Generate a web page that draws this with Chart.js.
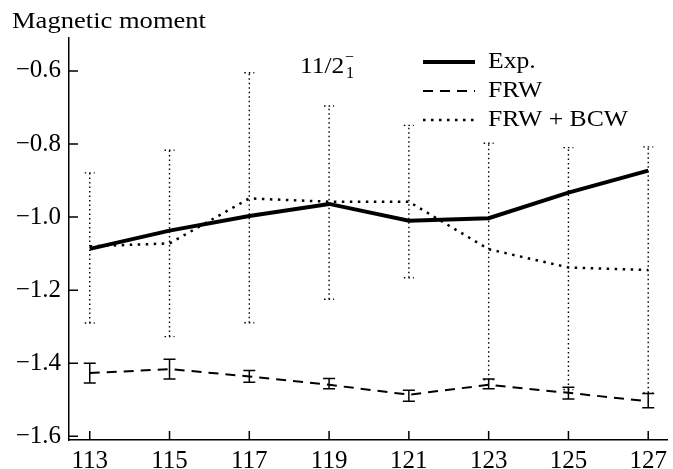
<!DOCTYPE html>
<html lang="en">
<head>
    <meta charset="UTF-8">
    <title>Magnetic moment 11/2-</title>
    <script src="https://cdn.jsdelivr.net/npm/chart.js@4.4.1/dist/chart.umd.min.js"></script>
    <style>
        html, body { margin: 0; padding: 0; background: #fff; }
        #wrap { width: 673px; height: 469px; }
    </style>
</head>
<body>
<div id="wrap"><canvas id="chart" width="673" height="469"></canvas></div>
<script>
    // data
    const nuclei = [113, 115, 117, 119, 121, 123, 125, 127];
    const xTicks = [113, 115, 117, 119, 121, 123, 125, 127];
    const yTicks = [-1.6, -1.4, -1.2, -1.0, -0.8, -0.6];

    const expMoment = [-1.087, -1.037, -0.997, -0.964, -1.010, -1.003, -0.933, -0.873];

    const frwMoment = [-1.427, -1.416, -1.436, -1.459, -1.486, -1.459, -1.481, -1.504];
    const frwLow    = [-1.454, -1.443, -1.452, -1.470, -1.504, -1.470, -1.498, -1.522];
    const frwHigh   = [-1.400, -1.389, -1.420, -1.442, -1.474, -1.443, -1.466, -1.483];

    const bcwMoment = [-1.080, -1.072, -0.949, -0.958, -0.958, -1.088, -1.138, -1.145];
    const bcwLow    = [-1.290, -1.327, -1.289, -1.225, -1.166, -1.445, -1.472, -1.481];
    const bcwHigh   = [-0.879, -0.817, -0.605, -0.696, -0.749, -0.798, -0.810, -0.808];

    const FONT = '"Liberation Serif", "Times New Roman", serif';

    function pts(vals) {
        return nuclei.map((n, i) => ({ x: n, y: vals[i] }));
    }

    // text stretched sideways a little, the figure's type is wider than Times
    function wideText(ctx, str, x, y, sx) {
        ctx.save();
        ctx.translate(x, y);
        ctx.scale(sx, 1);
        ctx.fillText(str, 0, 0);
        ctx.restore();
    }

    // error bars, drawn through the chart scales
    const errorBars = {
        id: 'errorBars',
        beforeDatasetsDraw(chart) {
            const { ctx, scales: { x, y } } = chart;
            const bars = [
                { low: bcwLow, high: bcwHigh, width: 1.4, dash: [1.5, 3], cap: 5 },
                { low: frwLow, high: frwHigh, width: 1.5, dash: [], cap: 6 }
            ];
            ctx.save();
            ctx.strokeStyle = '#000';
            bars.forEach(b => {
                ctx.lineWidth = b.width;
                ctx.setLineDash(b.dash);
                nuclei.forEach((n, i) => {
                    const px = x.getPixelForValue(n);
                    const y1 = y.getPixelForValue(b.low[i]);
                    const y2 = y.getPixelForValue(b.high[i]);
                    ctx.beginPath();
                    ctx.moveTo(px, y1); ctx.lineTo(px, y2);
                    ctx.moveTo(px - b.cap, y1); ctx.lineTo(px + b.cap, y1);
                    ctx.moveTo(px - b.cap, y2); ctx.lineTo(px + b.cap, y2);
                    ctx.stroke();
                });
            });
            ctx.restore();
        }
    };

    // inward ticks, legend, labels
    const decor = {
        id: 'decor',
        afterDraw(chart) {
            const { ctx, chartArea: a, scales: { x, y } } = chart;
            ctx.save();
            ctx.strokeStyle = '#000';
            ctx.lineWidth = 1.5;
            ctx.beginPath();
            xTicks.forEach(v => {
                const px = x.getPixelForValue(v);
                ctx.moveTo(px, a.bottom); ctx.lineTo(px, a.bottom - 9);
            });
            yTicks.forEach(v => {
                const py = y.getPixelForValue(v);
                ctx.moveTo(a.left, py); ctx.lineTo(a.left + 9, py);
            });
            ctx.stroke();

            ctx.fillStyle = '#000';
            ctx.textBaseline = 'alphabetic';
            ctx.textAlign = 'left';
            ctx.font = '24px ' + FONT;
            const title = 'Magnetic moment';
            wideText(ctx, title, 12, 28, 194 / ctx.measureText(title).width);

            // level label 11/2_1^-
            ctx.font = '24px ' + FONT;
            wideText(ctx, '11/2', 300, 73, 1.06);
            ctx.font = '16px ' + FONT;
            ctx.fillText('1', 346, 78);
            ctx.fillText('\u2212', 345, 62);

            // legend
            const rows = [62, 91, 120];
            chart.data.datasets.forEach((ds, i) => {
                const ly = rows[i];
                ctx.lineWidth = ds.borderWidth;
                ctx.setLineDash(ds.borderDash || []);
                ctx.beginPath();
                ctx.moveTo(423, ly); ctx.lineTo(475, ly);
                ctx.stroke();
                ctx.setLineDash([]);
                ctx.font = '24px ' + FONT;
                ctx.textBaseline = 'middle';
                wideText(ctx, ds.label, 488, ly, 1.07);
            });
            ctx.restore();
        }
    };

    new Chart(document.getElementById('chart'), {
        type: 'line',
        data: {
            datasets: [
                { label: 'Exp.', data: pts(expMoment), borderColor: '#000', borderWidth: 4, pointRadius: 0, borderDash: [] },
                { label: 'FRW', data: pts(frwMoment), borderColor: '#000', borderWidth: 2, pointRadius: 0, borderDash: [10, 7] },
                { label: 'FRW + BCW', data: pts(bcwMoment), borderColor: '#000', borderWidth: 2.5, pointRadius: 0, borderDash: [2.5, 5.5] }
            ]
        },
        options: {
            responsive: false,
            animation: false,
            layout: { padding: { top: 38, right: 1, left: 0, bottom: 0 } },
            plugins: { legend: { display: false }, tooltip: { enabled: false } },
            scales: {
                x: {
                    type: 'linear',
                    min: 112.48,
                    max: 127.48,
                    afterBuildTicks: s => { s.ticks = xTicks.map(v => ({ value: v })); },
                    afterFit: s => { s.height = 29; },
                    grid: { drawOnChartArea: false, drawTicks: false },
                    border: { color: '#000', width: 1.5 },
                    ticks: {
                        color: '#000',
                        padding: 6,
                        maxRotation: 0,
                        font: { family: FONT, size: 25 },
                        callback: v => String(v)
                    }
                },
                y: {
                    min: -1.61,
                    max: -0.51,
                    afterBuildTicks: s => { s.ticks = yTicks.map(v => ({ value: v })); },
                    afterFit: s => { s.width = 69; },
                    grid: { drawOnChartArea: false, drawTicks: false },
                    border: { color: '#000', width: 1.5 },
                    ticks: {
                        color: '#000',
                        padding: 8,
                        font: { family: FONT, size: 25 },
                        callback: v => v.toFixed(1).replace('-', '\u2212')
                    }
                }
            }
        },
        plugins: [errorBars, decor]
    });
</script>
</body>
</html>
